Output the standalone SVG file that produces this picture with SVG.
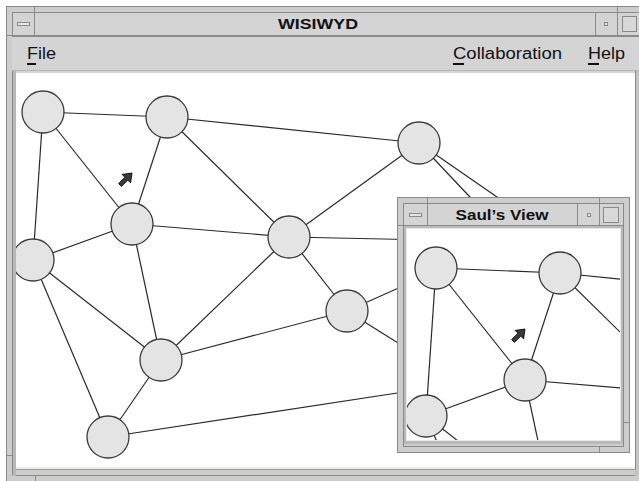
<svg xmlns="http://www.w3.org/2000/svg" xmlns:xlink="http://www.w3.org/1999/xlink" width="639" height="481" viewBox="0 0 639 481">
<style>
.frame{fill:#cdcdcd;stroke:#8a8a8a;stroke-width:1}
.bar{fill:#d4d4d4;stroke:#8a8a8a;stroke-width:1}
.div{stroke:#8a8a8a;stroke-width:1;fill:none}
.edge{stroke:#2a2a2a;stroke-width:1.2;fill:none}
.node circle{fill:#e4e4e4;stroke:#3a3a3a;stroke-width:1.3}
.menu{font-family:"Liberation Sans",Arial,sans-serif;font-size:16px;fill:#111}
.title{font-family:"Liberation Sans",Arial,sans-serif;font-size:15px;font-weight:bold;fill:#111}
.ul{stroke:#111;stroke-width:2}
.cursor{fill:#3a3a3a;stroke:#000;stroke-width:0.8;stroke-linejoin:round}
</style>
<defs>
<clipPath id="mainClip"><rect x="16" y="73" width="619" height="394"/></clipPath>
<clipPath id="innerClip"><rect x="407" y="229" width="213" height="211"/></clipPath>
</defs>
<rect width="639" height="481" fill="#ffffff"/>

<!-- main window frame -->
<g id="main-window">
<rect class="frame" x="6.5" y="6.5" width="700" height="500"/>
<line class="div" x1="34.5" y1="6" x2="34.5" y2="12"/>
<line class="div" x1="617.5" y1="6" x2="617.5" y2="12"/>
<line class="div" x1="6" y1="35.5" x2="12" y2="35.5"/>
<line class="div" x1="6" y1="455.5" x2="12" y2="455.5"/>
<line class="div" x1="35.5" y1="476" x2="35.5" y2="481"/>
<line class="div" x1="12" y1="475.5" x2="639" y2="475.5"/>
<!-- title bar -->
<rect class="bar" x="12.5" y="12.5" width="22" height="23"/>
<rect class="bar" x="34.5" y="12.5" width="561" height="23"/>
<rect class="bar" x="595.5" y="12.5" width="22" height="23"/>
<rect class="bar" x="617.5" y="12.5" width="30" height="23"/>
<rect x="17.5" y="22.5" width="12" height="3" fill="#e6e6e6" stroke="#8a8a8a"/>
<rect x="604.5" y="22.5" width="3" height="3" fill="#e6e6e6" stroke="#8a8a8a"/>
<rect x="622.5" y="16.5" width="14" height="15" fill="#d8d8d8" stroke="#8a8a8a"/>
<text class="title" x="318" y="29" text-anchor="middle" textLength="80" lengthAdjust="spacingAndGlyphs">WISIWYD</text>
<!-- menu bar -->
<rect x="12" y="36" width="627" height="37" fill="#d4d4d4"/>
<line class="div" x1="12" y1="36.5" x2="639" y2="36.5"/>
<line x1="12" y1="70.5" x2="639" y2="70.5" stroke="#b5b5b5"/>
<rect x="12" y="71" width="4" height="405" fill="#b8b8b8"/>
<line x1="12.5" y1="71" x2="12.5" y2="475" stroke="#8a8a8a"/>
<text class="menu" x="27" y="59" textLength="29" lengthAdjust="spacingAndGlyphs">File</text>
<line class="ul" x1="27" y1="64" x2="36" y2="64"/>
<text class="menu" x="453" y="59" textLength="109" lengthAdjust="spacingAndGlyphs">Collaboration</text>
<line class="ul" x1="453" y1="64" x2="464" y2="64"/>
<text class="menu" x="588" y="59" textLength="37" lengthAdjust="spacingAndGlyphs">Help</text>
<line class="ul" x1="588" y1="64" x2="599" y2="64"/>
<!-- canvas -->
<rect x="16" y="73" width="619" height="394" fill="#ffffff"/>
<rect x="16" y="467" width="619" height="2" fill="#f3ece0"/>
<rect x="635" y="71" width="4" height="405" fill="#c4c4c4"/>
<line x1="635.5" y1="71" x2="635.5" y2="470" stroke="#8a8a8a"/>
<line x1="16" y1="469.5" x2="636" y2="469.5" stroke="#9a9a9a"/>
</g>

<g clip-path="url(#mainClip)">
<g id="graph">
<g id="connectors">
<line class="edge" x1="43" y1="112" x2="167" y2="117"/>
<line class="edge" x1="43" y1="112" x2="132" y2="224"/>
<line class="edge" x1="43" y1="112" x2="33" y2="260"/>
<line class="edge" x1="167" y1="117" x2="132" y2="224"/>
<line class="edge" x1="167" y1="117" x2="419" y2="143"/>
<line class="edge" x1="167" y1="117" x2="289" y2="237"/>
<line class="edge" x1="132" y1="224" x2="33" y2="260"/>
<line class="edge" x1="132" y1="224" x2="289" y2="237"/>
<line class="edge" x1="132" y1="224" x2="161" y2="360"/>
<line class="edge" x1="33" y1="260" x2="161" y2="360"/>
<line class="edge" x1="33" y1="260" x2="108" y2="437"/>
<line class="edge" x1="161" y1="360" x2="289" y2="237"/>
<line class="edge" x1="161" y1="360" x2="347" y2="311"/>
<line class="edge" x1="161" y1="360" x2="108" y2="437"/>
<line class="edge" x1="289" y1="237" x2="347" y2="311"/>
<line class="edge" x1="289" y1="237" x2="419" y2="143"/>
<line class="edge" x1="289" y1="237" x2="430" y2="240"/>
<line class="edge" x1="347" y1="311" x2="430" y2="274"/>
<line class="edge" x1="347" y1="311" x2="430" y2="363"/>
<line class="edge" x1="108" y1="437" x2="430" y2="388"/>
<line class="edge" x1="419" y1="143" x2="485" y2="213"/>
<line class="edge" x1="419" y1="143" x2="520" y2="213"/>
</g>
<g id="node-a" class="node"><circle cx="43" cy="112" r="21"/></g>
<g id="node-b" class="node"><circle cx="167" cy="117" r="21"/></g>
<g id="node-c" class="node"><circle cx="132" cy="224" r="21"/></g>
<g id="node-d" class="node"><circle cx="33" cy="260" r="21"/></g>
<g id="node-e" class="node"><circle cx="289" cy="237" r="21"/></g>
<g id="node-f" class="node"><circle cx="161" cy="360" r="21"/></g>
<g id="node-g" class="node"><circle cx="347" cy="311" r="21"/></g>
<g id="node-h" class="node"><circle cx="108" cy="437" r="21"/></g>
<g id="node-i" class="node"><circle cx="419" cy="143" r="21"/></g>
<g id="cursor" transform="translate(132,173) rotate(45)">
<polygon class="cursor" points="0,0 6,8 2,8 2,17 -2,17 -2,8 -6,8"/>
</g>
</g>
</g>

<!-- Saul's View window -->
<g id="sauls-view">
<rect class="frame" x="397.5" y="197.5" width="232" height="255"/>
<line class="div" x1="427.5" y1="197" x2="427.5" y2="203"/>
<line class="div" x1="599.5" y1="197" x2="599.5" y2="203"/>
<line class="div" x1="397" y1="225.5" x2="403" y2="225.5"/>
<line class="div" x1="624" y1="422.5" x2="630" y2="422.5"/>
<line class="div" x1="599.5" y1="447" x2="599.5" y2="453"/>
<line class="div" x1="403.5" y1="446.5" x2="624" y2="446.5"/>
<line class="div" x1="403.5" y1="203" x2="403.5" y2="447"/>
<line class="div" x1="623.5" y1="203" x2="623.5" y2="447"/>
<rect class="bar" x="403.5" y="203.5" width="24" height="22"/>
<rect class="bar" x="427.5" y="203.5" width="150" height="22"/>
<rect class="bar" x="577.5" y="203.5" width="22" height="22"/>
<rect class="bar" x="599.5" y="203.5" width="24" height="22"/>
<rect x="409.5" y="213.5" width="12" height="3" fill="#e6e6e6" stroke="#8a8a8a"/>
<rect x="587.5" y="213.5" width="3" height="3" fill="#e6e6e6" stroke="#8a8a8a"/>
<rect x="603.5" y="207.5" width="15" height="15" fill="#d8d8d8" stroke="#8a8a8a"/>
<text class="title" x="502" y="220" text-anchor="middle" textLength="93" lengthAdjust="spacingAndGlyphs">Saul’s View</text>
<rect x="404" y="226" width="219" height="218" fill="#b9b9b9"/>
<rect x="406" y="228" width="215" height="213" fill="#e8e8e8"/>
<rect x="407" y="229" width="213" height="211" fill="#ffffff"/>
<g clip-path="url(#innerClip)">
<use xlink:href="#graph" transform="translate(393,156)"/>
</g>
</g>
</svg>
